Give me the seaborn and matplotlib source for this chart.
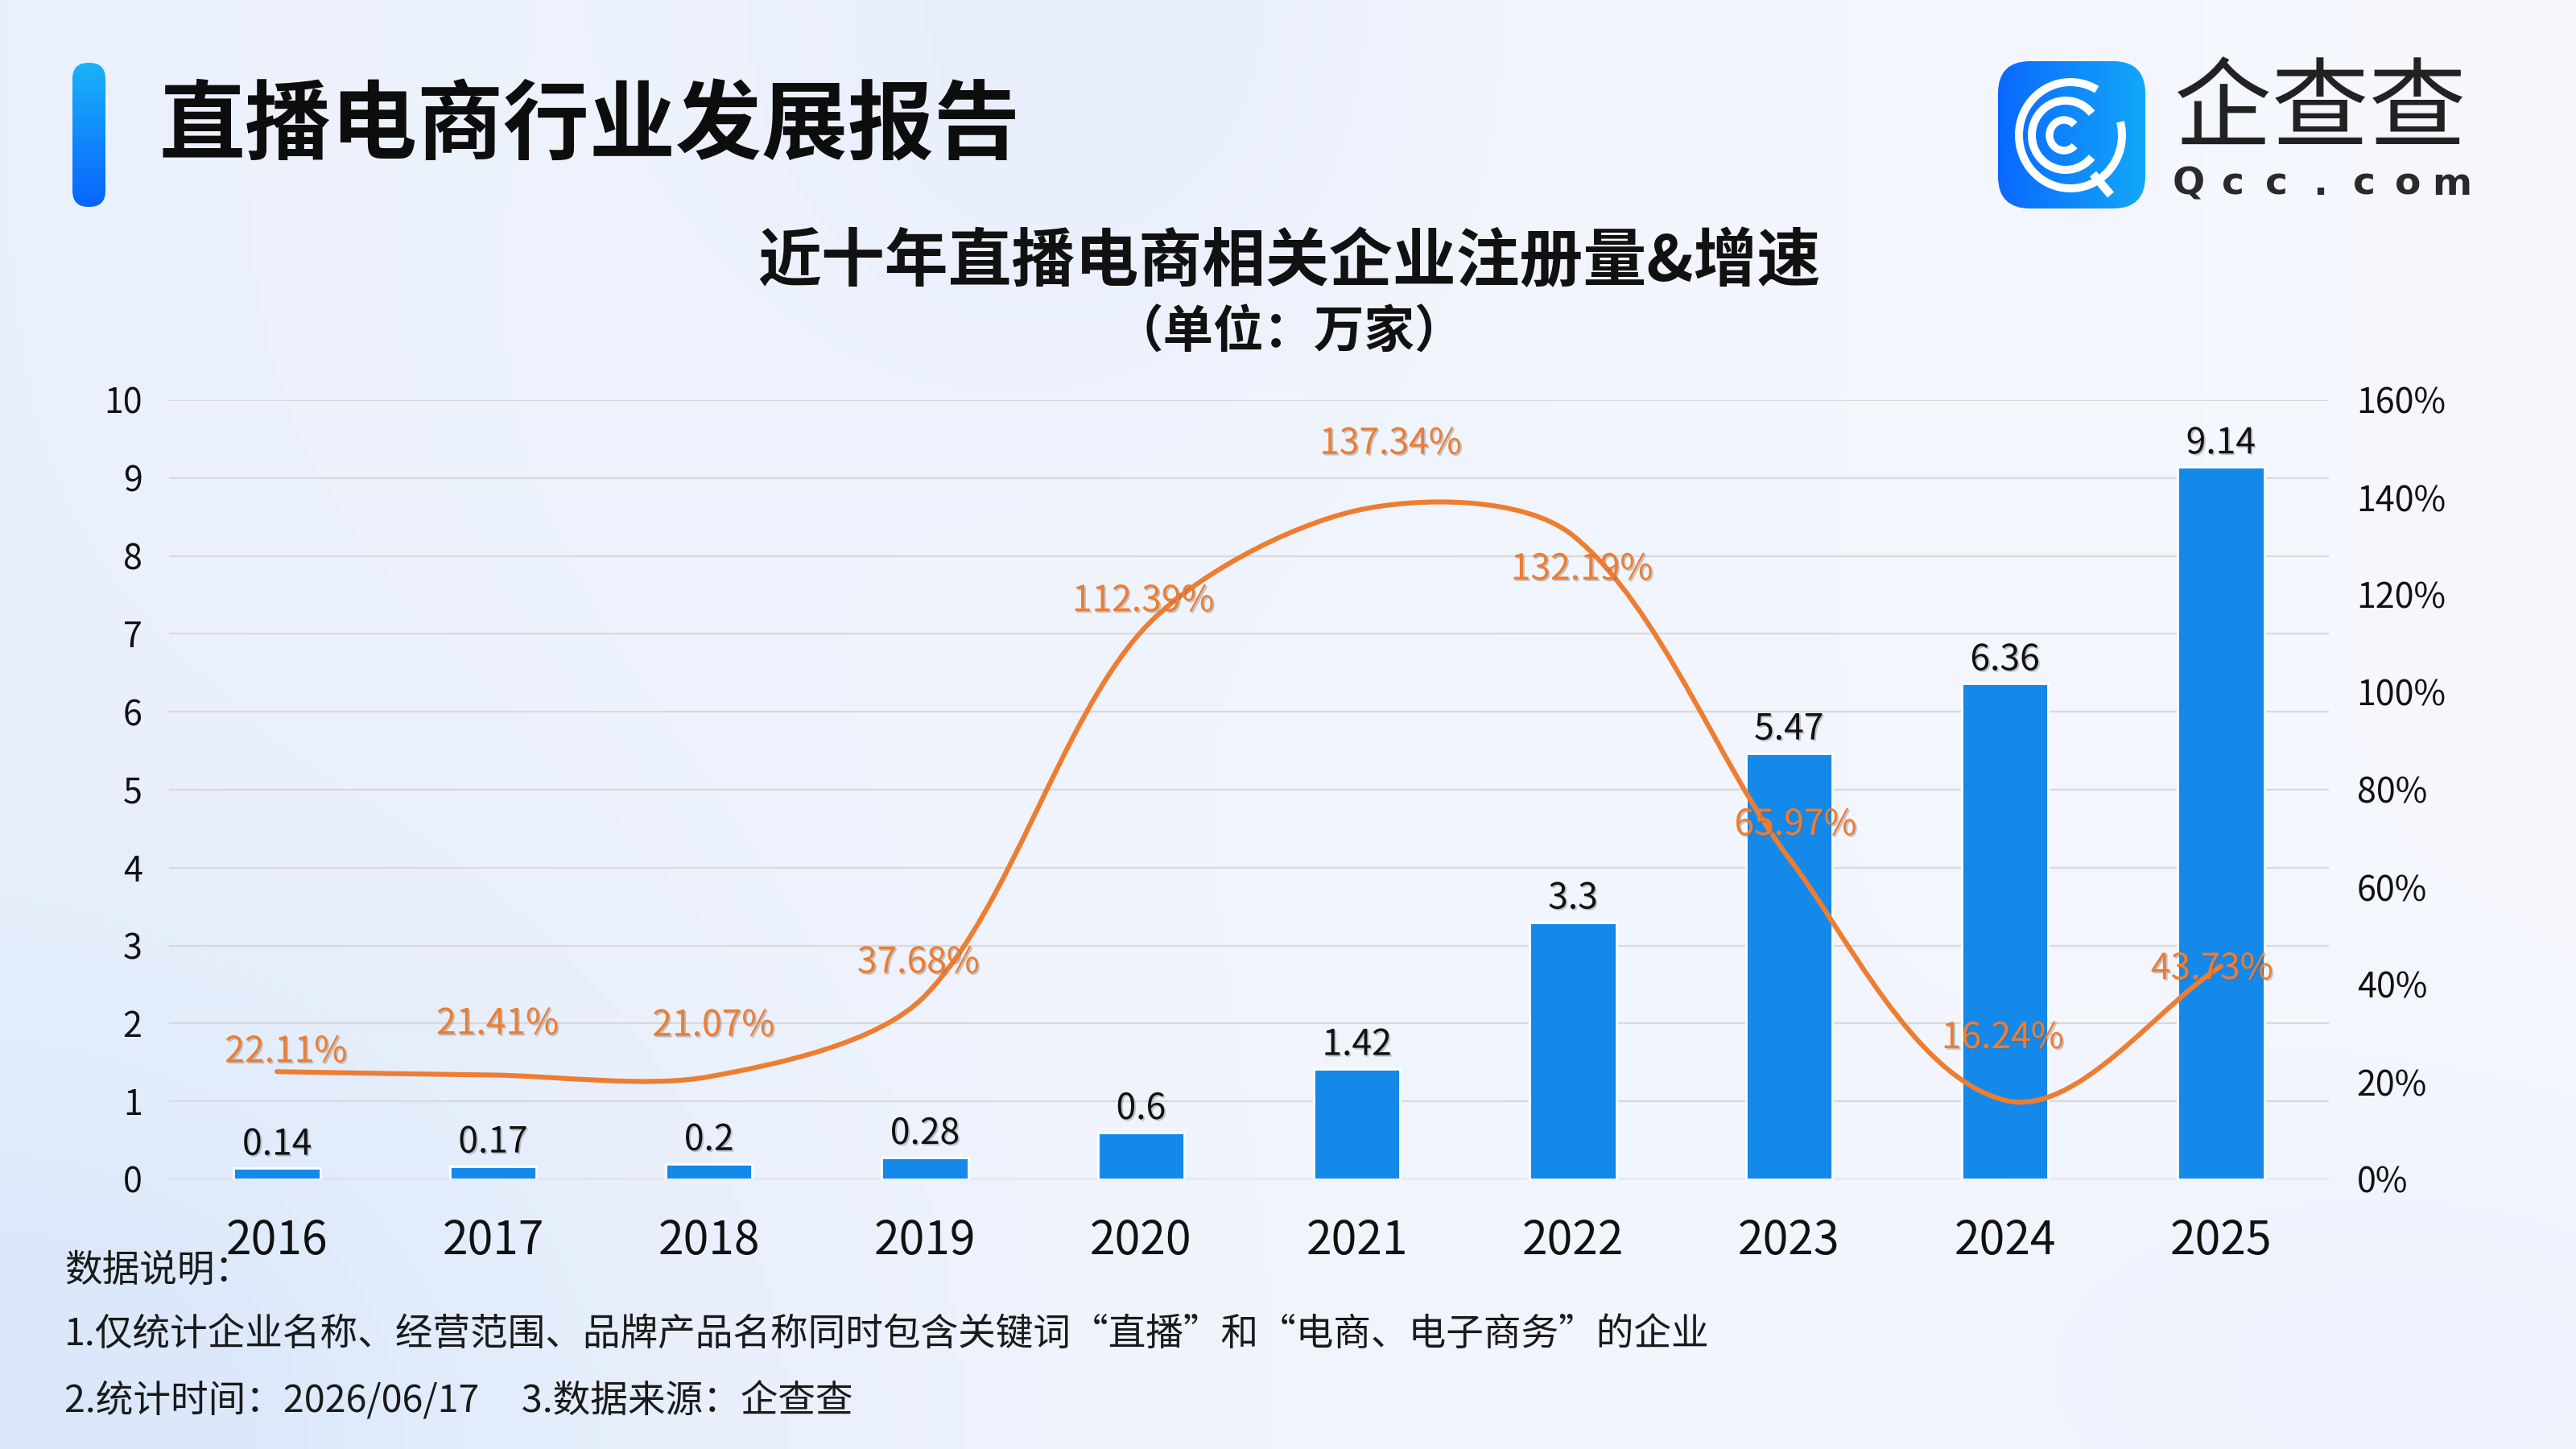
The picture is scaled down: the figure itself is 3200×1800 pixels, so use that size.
import numpy as np
import pandas as pd
import matplotlib
matplotlib.use("Agg")
import matplotlib.pyplot as plt
import matplotlib.patheffects as pe
from matplotlib.path import Path
from matplotlib.patches import PathPatch, FancyBboxPatch, Arc
import seaborn as sns

# chart data
years = ["2016", "2017", "2018", "2019", "2020", "2021", "2022", "2023", "2024", "2025"]
counts = [0.14, 0.17, 0.2, 0.28, 0.6, 1.42, 3.3, 5.47, 6.36, 9.14]
growth = [22.11, 21.41, 21.07, 37.68, 112.39, 137.34, 132.19, 65.97, 16.24, 43.73]
left_ticks = [0, 1, 2, 3, 4, 5, 6, 7, 8, 9, 10]
right_ticks = [0, 20, 40, 60, 80, 100, 120, 140, 160]

# where each growth label sits relative to its point (points)
label_offsets = [(4, 9), (2, 23), (2, 23), (-3, 15), (1, 14),
                 (15, 30), (4, -15), (3, 15), (-1, 28), (-4, -1)]

title = "直播电商行业发展报告"
chart_title = "近十年直播电商相关企业注册量&增速"
chart_unit = "（单位：万家）"
notes = ["数据说明：",
         "1.仅统计企业名称、经营范围、品牌产品名称同时包含关键词“直播”和“电商、电子商务”的企业",
         "2.统计时间：2026/06/17     3.数据来源：企查查"]

BAR = "#1589EA"
LINE = "#ED7D31"

sns.set_theme(style="white")
plt.rcParams["font.family"] = ["Noto Sans CJK SC", "DejaVu Sans"]
plt.rcParams["axes.unicode_minus"] = False

W, H = 3200, 1800
fig = plt.figure(figsize=(16, 9), dpi=200)

# background layer in pixel units
bg = fig.add_axes([0, 0, 1, 1], zorder=-10)
bg.set_xlim(0, W)
bg.set_ylim(H, 0)
bg.axis("off")
gy, gx = np.mgrid[0:180, 0:320]
u, v = gx / 319.0, gy / 179.0
c_left = np.array([235, 241, 252]) / 255
c_right = np.array([246, 248, 254]) / 255
img = c_left[None, None, :] * (1 - u[..., None]) + c_right[None, None, :] * u[..., None]
def blob(cx, cy, rx, ry, col, strength):
    global img
    m = np.exp(-(((u - cx) / rx) ** 2 + ((v - cy) / ry) ** 2)) * strength
    img = img * (1 - m[..., None]) + np.array(col)[None, None, :] / 255 * m[..., None]
blob(0.0, 1.0, 0.25, 0.35, (214, 229, 250), 0.8)
blob(0.42, 0.0, 0.12, 0.25, (228, 236, 251), 0.7)
blob(0.95, 0.95, 0.2, 0.2, (232, 239, 252), 0.6)
bg.imshow(img, extent=[0, W, H, 0], aspect="auto", zorder=0)

def gradient_box(x0, y0, w, h, c0, c1, horizontal, radius):
    t = np.linspace(0, 1, 200)
    c0 = np.array(matplotlib.colors.to_rgb(c0))
    c1 = np.array(matplotlib.colors.to_rgb(c1))
    grad = c0[None, :] * (1 - t[:, None]) + c1[None, :] * t[:, None]
    grad = grad[None, :, :] if horizontal else grad[:, None, :]
    box = FancyBboxPatch((x0, y0), w, h, boxstyle=f"round,pad=0,rounding_size={radius}",
                         facecolor="none", edgecolor="none", transform=bg.transData)
    bg.add_patch(box)
    im = bg.imshow(grad, extent=[x0, x0 + w, y0 + h, y0], aspect="auto", zorder=1)
    im.set_clip_path(box)

# title block
gradient_box(90, 78, 41, 179, "#1AB2F8", "#0A64FF", False, 20)
fig.text(198 / W, 1 - 158 / H, title, fontsize=38.5, fontweight="black",
         color="#0d0d0d", ha="left", va="center")

# logo
gradient_box(2482, 76, 183, 183, "#0A68FF", "#13A8F8", True, 40)
cx, cy = 2572, 168
bg.add_patch(Arc((cx, cy), 128, 132, theta1=-15, theta2=300, lw=3.6, color="white", zorder=2))
bg.add_patch(Arc((cx - 6, cy), 84, 86, theta1=40, theta2=320, lw=3.6, color="white", zorder=2))
bg.add_patch(Arc((cx - 8, cy), 36, 38, theta1=45, theta2=315, lw=3.4, color="white", zorder=2))
bg.plot([cx + 28, cx + 50], [cy + 48, cy + 74], color="white", lw=3.8,
        solid_capstyle="butt", zorder=2)
fig.text(2882 / W, 1 - 140 / H, "企查查", fontsize=43.5, color="#222222",
         ha="center", va="center")
for k, ch in enumerate("Qcc.com"):
    fig.text((2719 + k * 54.5) / W, 1 - 229 / H, ch, fontsize=17, fontweight="bold",
             color="#2a2a2a", ha="center", va="center", family="DejaVu Sans")

# chart titles
fig.text(0.5003, 1 - 326 / H, chart_title, fontsize=28.4, fontweight="bold",
         color="#111111", ha="center", va="center")
fig.text(0.5003, 1 - 413 / H, chart_unit, fontsize=22.5, fontweight="bold",
         color="#111111", ha="center", va="center")

# main axes
ax = fig.add_axes([210 / W, 1 - 1465 / H, (2893 - 210) / W, (1465 - 497) / H])
ax.patch.set_alpha(0)
df = pd.DataFrame({"year": years, "count": counts, "growth": growth})
sns.barplot(data=df, x="year", y="count", color=BAR, width=0.4, saturation=1, ax=ax, zorder=3)
ax.set_xlim(-0.5, len(years) - 0.5)
ax.set_ylim(0, 10)
ax.set_yticks(left_ticks)
ax.set_xlabel("")
ax.set_ylabel("")
ax.yaxis.grid(True, color="#D9D9D9", lw=0.8)
ax.xaxis.grid(False)
ax.set_axisbelow(True)
for s in ax.spines.values():
    s.set_visible(False)
ax.tick_params(axis="y", length=0, pad=12, labelsize=15.5, labelcolor="#111111")
ax.tick_params(axis="x", length=0, pad=17, labelsize=20.5, labelcolor="#111111")

shadow = [pe.withSimplePatchShadow(offset=(0.7, -0.7), shadow_rgbFace="#666666", alpha=0.35)]
ax.bar_label(ax.containers[0], labels=[f"{c:g}" for c in counts], padding=2.5,
             fontsize=16, color="#111111", path_effects=shadow)

# growth axis
ax2 = ax.twinx()
ax2.set_ylim(0, 160)
ax2.set_yticks(right_ticks)
ax2.set_yticklabels([f"{t}%" for t in right_ticks])
ax2.grid(False)
for s in ax2.spines.values():
    s.set_visible(False)
ax2.tick_params(axis="y", length=0, pad=12.5, labelsize=15.5, labelcolor="#111111")

# smooth growth curve built from the data points
def smooth_path(xs, ys, sx, sy, k=0.29):
    P = np.column_stack([np.asarray(xs, float) * sx, np.asarray(ys, float) * sy])
    n = len(P)
    verts, codes = [P[0]], [Path.MOVETO]
    for i in range(n - 1):
        p0, p1, p2, p3 = P[max(i - 1, 0)], P[i], P[i + 1], P[min(i + 2, n - 1)]
        d = np.linalg.norm(p2 - p1)
        t1 = (p2 - p0) / np.linalg.norm(p2 - p0)
        t2 = (p3 - p1) / np.linalg.norm(p3 - p1)
        verts += [p1 + t1 * d * k, p2 - t2 * d * k, p2]
        codes += [Path.CURVE4] * 3
    return Path(np.array(verts) / [sx, sy], codes)

xpos = np.arange(len(years))
sx = (2893 - 210) / len(years)
sy = (1465 - 497) / 160
ax2.add_patch(PathPatch(smooth_path(xpos, growth, sx, sy), fill=False, edgecolor=LINE,
                        lw=2.2, capstyle="round", joinstyle="round", zorder=4))

for i, g in enumerate(growth):
    ax2.annotate(f"{g:.2f}%", (xpos[i], g), xytext=label_offsets[i], textcoords="offset points",
                 ha="center", va="center", fontsize=16, color=LINE, zorder=5,
                 path_effects=shadow)

# notes
for txt, ypx in zip(notes, [1578, 1658, 1741]):
    fig.text(80 / W, 1 - ypx / H, txt, fontsize=16.8, color="#1a1a1a", ha="left", va="center")

fig.savefig("out.png", dpi=200)
